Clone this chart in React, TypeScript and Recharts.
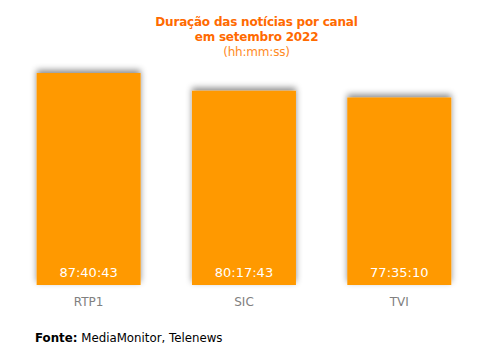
import { BarChart, Bar, XAxis, YAxis, LabelList } from "recharts";

const channels = ["RTP1", "SIC", "TVI"];
const durations = ["87:40:43", "80:17:43", "77:35:10"];

const toSeconds = (s: string) => {
  const [h, m, sec] = s.split(":").map(Number);
  return h * 3600 + m * 60 + sec;
};

const toHms = (v: number) => {
  const h = Math.floor(v / 3600);
  const m = Math.floor((v % 3600) / 60);
  const s = v % 60;
  const pad = (n: number) => String(n).padStart(2, "0");
  return `${h}:${pad(m)}:${pad(s)}`;
};

const data = channels.map((c, i) => ({ canal: c, seconds: toSeconds(durations[i]) }));
const maxSeconds = Math.max(...data.map((d) => d.seconds));

const FONT = "'DejaVu Sans', Verdana, sans-serif";

const CategoryTick = (props: any) => {
  const { x, y, payload } = props;
  return (
    <text x={x} y={y + 13} textAnchor="middle" fill="#808080" fontSize={12} fontFamily={FONT}>
      {payload.value}
    </text>
  );
};

const ValueLabel = (props: any) => {
  const { x, y, width, height, value } = props;
  return (
    <text
      x={x + width / 2}
      y={y + height - 8}
      textAnchor="middle"
      fill="#ffffff"
      fontSize={13}
      fontFamily={FONT}
    >
      {toHms(value)}
    </text>
  );
};

export default function App() {
  return (
    <div style={{ position: "relative", width: 471, height: 335, fontFamily: FONT }}>
      <div
        style={{
          position: "absolute",
          top: 7,
          left: 13,
          width: 471,
          textAlign: "center",
          color: "#ff6a00",
          fontSize: 12,
          lineHeight: "15px",
          letterSpacing: -0.2,
        }}
      >
        <div style={{ fontWeight: "bold" }}>Duração das notícias por canal</div>
        <div style={{ fontWeight: "bold" }}>em setembro 2022</div>
        <div style={{ color: "#ff8a1f", lineHeight: "14px" }}>(hh:mm:ss)</div>
      </div>
      <BarChart
        width={471}
        height={335}
        data={data}
        margin={{ top: 65, right: 2, bottom: 28, left: 3 }}
        barCategoryGap="16.5%"
      >
        <defs>
          <filter id="barShadow" x="-20%" y="-20%" width="140%" height="140%">
            <feDropShadow dx={0} dy={-3} stdDeviation={3} floodColor="#000" floodOpacity={0.45} />
          </filter>
        </defs>
        <XAxis
          dataKey="canal"
          axisLine={false}
          tickLine={false}
          height={30}
          tick={<CategoryTick />}
          interval={0}
        />
        <YAxis hide domain={[0, maxSeconds]} />
        <Bar
          dataKey="seconds"
          fill="#ff9900"
          isAnimationActive={false}
          style={{ filter: "url(#barShadow)" }}
        >
          <LabelList dataKey="seconds" content={<ValueLabel />} />
        </Bar>
      </BarChart>
      <div
        style={{
          position: "absolute",
          top: 323,
          left: 27,
          fontSize: 11.8,
          color: "#000",
          whiteSpace: "nowrap",
        }}
      >
        <b>Fonte:</b> MediaMonitor, Telenews
      </div>
    </div>
  );
}
